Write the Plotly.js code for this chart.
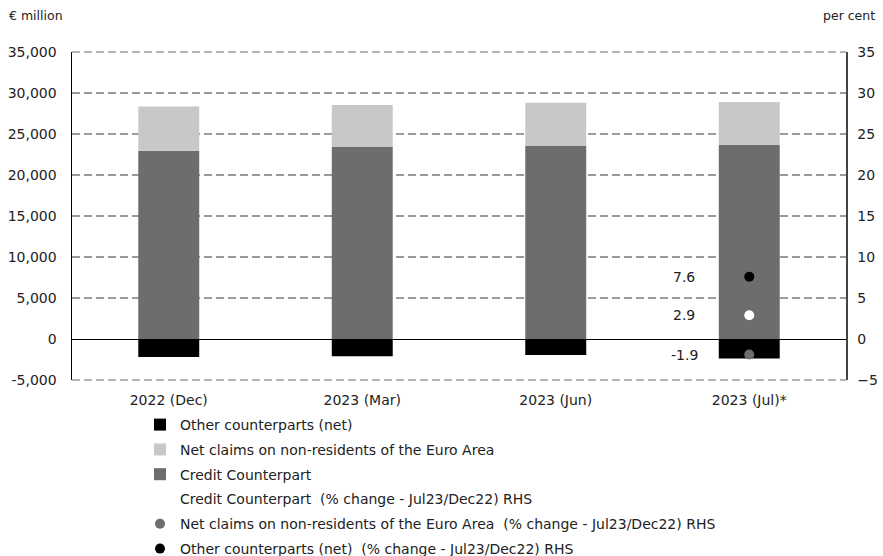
<!DOCTYPE html>
<html><head><meta charset="utf-8">
<script src="https://cdn.plot.ly/plotly-3.0.1.min.js"></script>
<style>html,body{margin:0;padding:0;background:#fff}</style>
</head><body><div id="chart" style="width:883px;height:556px"></div>
<script>
const categories = ["2022 (Dec)", "2023 (Mar)", "2023 (Jun)", "2023 (Jul)*"];
const creditCounterpart = [22950, 23400, 23550, 23650];
const netClaims = [5400, 5150, 5250, 5250];
const otherCounterparts = [-2200, -2100, -1950, -2370];
const pctCategory = ["2023 (Jul)*"];
const pctCredit = [2.9];
const pctNetClaims = [-1.9];
const pctOther = [7.6];
const leftTicks = [-5000, 0, 5000, 10000, 15000, 20000, 25000, 30000, 35000];
const rightTicks = [-5, 0, 5, 10, 15, 20, 25, 30, 35];

const FAM = "DejaVu Sans, sans-serif";
const tickFont = {family: FAM, size: 14, color: "#222"};
const legFont = {family: FAM, size: 14, color: "#222"};
const GRID = {color: "#9a9a9a", width: 1.5, dash: "8px,4px"};
const traces = [
  {type: "bar", name: "Credit Counterpart", x: categories, y: creditCounterpart,
   marker: {color: "#6d6d6d"}, legendrank: 3, legendgroup: "g3"},
  {type: "bar", name: "Net claims on non-residents of the Euro Area", x: categories, y: netClaims,
   marker: {color: "#c8c8c8"}, legendrank: 2, legendgroup: "g2"},
  {type: "bar", name: "Other counterparts (net)", x: categories, y: otherCounterparts,
   marker: {color: "#000000"}, legendrank: 1, legendgroup: "g1"},
  {type: "scatter", mode: "markers", name: "Credit Counterpart  (% change - Jul23/Dec22) RHS",
   x: pctCategory, y: pctCredit, yaxis: "y2", marker: {color: "#ffffff", size: 10}, legendrank: 4, legendgroup: "g4"},
  {type: "scatter", mode: "markers", name: "Net claims on non-residents of the Euro Area  (% change - Jul23/Dec22) RHS",
   x: pctCategory, y: pctNetClaims, yaxis: "y2", marker: {color: "#6d6d6d", size: 10}, legendrank: 5, legendgroup: "g5"},
  {type: "scatter", mode: "markers", name: "Other counterparts (net)  (% change - Jul23/Dec22) RHS",
   x: pctCategory, y: pctOther, yaxis: "y2", marker: {color: "#000000", size: 10}, legendrank: 6, legendgroup: "g6"}
];
const ann = [];
[pctCredit[0], pctNetClaims[0], pctOther[0]].forEach(v => {
  ann.push({x: pctCategory[0], y: v, xref: "x", yref: "y2", text: v.toFixed(1),
    showarrow: false, xshift: -65, font: tickFont});
});
ann.push({xref: "paper", yref: "paper", x: -0.084, y: 1.112, xanchor: "left", yanchor: "middle",
  text: "€ million", showarrow: false, font: {family: FAM, size: 12.5, color: "#222"}});
ann.push({xref: "paper", yref: "paper", x: 1.04, y: 1.112, xanchor: "right", yanchor: "middle",
  text: "per cent", showarrow: false, font: {family: FAM, size: 12.5, color: "#222"}});

// edge gridlines (Plotly omits gridlines that sit on the plot-area edges)
const edgeGrid = [0, 1].map(v => ({
  type: "line", xref: "paper", yref: "paper", x0: 0, x1: 1, y0: v, y1: v, layer: "below", line: GRID
}));

const layout = {
  width: 883, height: 556,
  margin: {l: 72, r: 37, t: 52, b: 176, autoexpand: false},
  paper_bgcolor: "#fff", plot_bgcolor: "#fff",
  font: tickFont,
  barmode: "relative", bargap: 0.685,
  showlegend: true,
  legend: {xref: "container", yref: "container", x: 140/883, y: 1 - 409/556, xanchor: "left", yanchor: "top",
    traceorder: "grouped", font: legFont, itemwidth: 30, tracegroupgap: 3.6, bgcolor: "rgba(0,0,0,0)"},
  xaxis: {type: "category", showline: false, showgrid: false, ticks: "outside", ticklen: 7, tickcolor: "rgba(0,0,0,0)",
    tickfont: tickFont, zeroline: false, tickangle: 0},
  yaxis: {range: [-5000, 35000], tickvals: leftTicks, ticktext: leftTicks.map(v => v.toLocaleString("en-US")),
    showline: true, linecolor: "#000", linewidth: 1.5, showgrid: true, gridcolor: GRID.color, griddash: GRID.dash, gridwidth: GRID.width,
    zeroline: true, zerolinecolor: "#000", zerolinewidth: 1, ticks: "outside", ticklen: 11, tickcolor: "rgba(0,0,0,0)", tickfont: tickFont},
  yaxis2: {overlaying: "y", side: "right", range: [-5, 35], tickvals: rightTicks, showgrid: false,
    showline: true, linecolor: "#444", linewidth: 1.5, zeroline: false, ticks: "outside", ticklen: 7, tickcolor: "rgba(0,0,0,0)", tickfont: tickFont},
  shapes: edgeGrid,
  annotations: ann
};
Plotly.newPlot("chart", traces, layout, {displayModeBar: false, staticPlot: true});
</script></body></html>
